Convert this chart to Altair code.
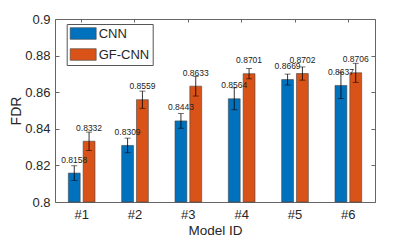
import altair as alt
import pandas as pd

models = ["#1", "#2", "#3", "#4", "#5", "#6"]
methods = ["CNN", "GF-CNN"]
colors = ["#0072BD", "#D95319"]
cnn_vals = [0.8158, 0.8309, 0.8443, 0.8564, 0.8669, 0.8637]
cnn_err = [0.0040, 0.0040, 0.0040, 0.0060, 0.0030, 0.0072]
gf_vals = [0.8332, 0.8559, 0.8633, 0.8701, 0.8702, 0.8706]
gf_err = [0.0050, 0.0047, 0.0054, 0.0028, 0.0036, 0.0052]
yticks = [0.8, 0.82, 0.84, 0.86, 0.88, 0.9]

rows = []
for m, v, e in zip(models, cnn_vals, cnn_err):
    rows.append({"model": m, "method": "CNN", "value": v, "lo": v - e, "hi": v + e, "base": 0.8})
for m, v, e in zip(models, gf_vals, gf_err):
    rows.append({"model": m, "method": "GF-CNN", "value": v, "lo": v - e, "hi": v + e, "base": 0.8})
df = pd.DataFrame(rows)

W, H = 320, 183
FONT = "Liberation Sans"
AX = "#666666"
TXT = "#262626"

xscale = alt.Scale(domain=models, paddingInner=0.5, paddingOuter=0.25)
yscale = alt.Scale(domain=[0.8, 0.9], zero=False, nice=False)
xoff = alt.XOffset("method:N", sort=methods, scale=alt.Scale(domain=methods, paddingInner=0.2))

base = alt.Chart(df)

bars = base.mark_bar(stroke="#444444", strokeWidth=0.6).encode(
    x=alt.X("model:N", sort=models, scale=xscale,
            axis=alt.Axis(orient="bottom", title="Model ID", labelAngle=0, ticks=False, tickSize=0,
                          labelPadding=6, labelFontSize=13, labelColor=TXT, titleFontSize=13.5,
                          titleFontWeight="normal", titleColor=TXT, titleY=32,
                          titleBaseline="alphabetic", domainColor=AX, labelFont=FONT, titleFont=FONT)),
    xOffset=xoff,
    y=alt.Y("value:Q", scale=yscale,
            axis=alt.Axis(orient="left", values=yticks, format=".2~f", title="FDR", ticks=False,
                          tickSize=0, labelPadding=5, labelFontSize=13, labelColor=TXT,
                          titleFontSize=14, titleFontWeight="normal", titleColor=TXT, titleX=-35,
                          titleBaseline="alphabetic", domainColor=AX, grid=False,
                          labelFont=FONT, titleFont=FONT)),
    y2=alt.Y2("base:Q"),
    color=alt.Color("method:N", sort=methods, scale=alt.Scale(domain=methods, range=colors),
                    legend=alt.Legend(title=None, orient="none", legendX=11.7, legendY=5,
                                      symbolType="M-1,-0.967L3.333,-0.967L3.333,0.967L-1,0.967Z",
                                      symbolSize=144, labelFontSize=13, labelColor=TXT,
                                      labelFont=FONT, strokeColor="#555555", fillColor="white",
                                      padding=3, rowPadding=6, labelOffset=16,
                                      symbolStrokeColor="#444444", symbolStrokeWidth=0.6,
                                      symbolOpacity=1)),
)

rules = base.mark_rule(color="black", strokeWidth=0.8).encode(
    x=alt.X("model:N", sort=models, scale=xscale,
            axis=alt.Axis(orient="bottom", offset=-H, labels=False, title=None, domain=True,
                          domainColor=AX, ticks=True, tickSize=3, tickColor=AX)),
    xOffset=xoff,
    y=alt.Y("lo:Q", scale=yscale,
            axis=alt.Axis(orient="right", offset=-W, labels=False, title=None, domain=False,
                          ticks=True, tickSize=4, tickColor=AX, values=yticks, grid=False)),
    y2="hi:Q",
)

caps_top = base.mark_tick(color="black", size=6, thickness=0.8).encode(
    x=alt.X("model:N", sort=models, scale=xscale, axis=None),
    xOffset=xoff,
    y=alt.Y("hi:Q", scale=yscale,
            axis=alt.Axis(orient="left", offset=-W, labels=False, title=None, domain=True,
                          domainColor=AX, ticks=True, tickSize=4, tickColor=AX, values=yticks,
                          grid=False)),
)

caps_bot = base.mark_tick(color="black", size=6, thickness=0.8).encode(
    x=alt.X("model:N", sort=models, scale=xscale, axis=None),
    xOffset=xoff,
    y=alt.Y("lo:Q", scale=yscale, axis=None),
)

texts = base.mark_text(dy=-13.5, fontSize=8.5, baseline="middle", color="#222222", font=FONT).encode(
    x=alt.X("model:N", sort=models, scale=xscale, axis=None),
    xOffset=xoff,
    y=alt.Y("value:Q", scale=yscale, axis=None),
    text=alt.Text("value:Q", format=".4f"),
)

chart = alt.layer(bars, rules, caps_top, caps_bot, texts).resolve_axis(
    x="independent", y="independent"
).properties(
    width=W, height=H,
    autosize=alt.AutoSizeParams(type="none"),
    padding={"left": 47, "top": 11, "right": 32, "bottom": 35},
).configure_view(stroke=None).configure(font=FONT)

chart.save("out.html", embed_options={"renderer": "svg", "actions": False})
